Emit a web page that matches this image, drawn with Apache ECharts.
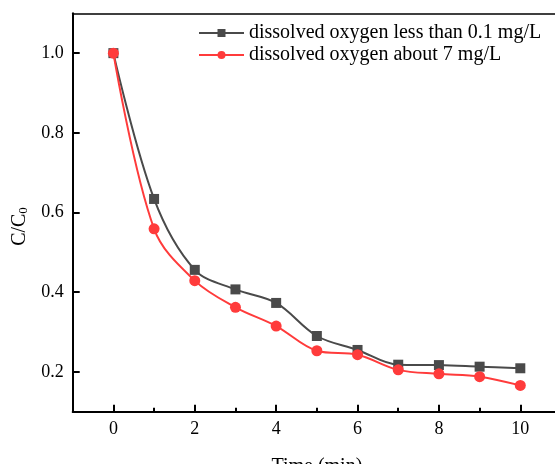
<!DOCTYPE html>
<html><head><meta charset="utf-8">
<script src="https://cdn.jsdelivr.net/npm/echarts@6/dist/echarts.min.js"></script>
<style>html,body{margin:0;padding:0;background:#fff}#c{width:555px;height:464px}</style>
</head><body><div id="c"></div>
<script>
const times = [0,1,2,3,4,5,6,7,8,9,10];
const lowDO = [1.0,0.634,0.456,0.407,0.373,0.290,0.255,0.218,0.217,0.213,0.209];
const highDO = [1.0,0.559,0.429,0.362,0.315,0.253,0.243,0.205,0.195,0.188,0.166];
const seriesNames = ['dissolved oxygen less than 0.1 mg/L','dissolved oxygen about 7 mg/L'];
const xTickLabels = [0,2,4,6,8,10];
const yTickLabels = [0.2,0.4,0.6,0.8,1.0];
const xRange = [-1,11];
const yRange = [0.1,1.1];

const font = 'Liberation Serif';
const chart = echarts.init(document.getElementById('c'));
const pairs = ys => times.map((t,i)=>[t,ys[i]]);
const near = (v,arr) => arr.some(a=>Math.abs(a-v)<1e-6);
const xCats = []; for(let v=xRange[0]; v<=xRange[1]; v++) xCats.push(String(v));
const yCats = []; for(let k=0; k<=10; k++) yCats.push((yRange[0]+k*0.1).toFixed(1));
const tickLine = {color:'#000',width:2};
const hidden = (gi)=>({type:'value',gridIndex:gi,show:false});
const G = {left:72.7,width:488.3,containLabel:false,outerBoundsMode:'none',show:false};

chart.setOption({
  animation:false,
  grid:[
    Object.assign({},G,{top:13.3,bottom:52.3}),
    Object.assign({},G,{bottom:52.3,height:7}),
    Object.assign({},G,{bottom:52.3,height:4}),
    Object.assign({},G,{width:7,top:13.3,bottom:52.3})
  ],
  legend:{
    orient:'vertical',left:198,top:23,padding:0,itemWidth:45,itemHeight:10,itemGap:2,
    textStyle:{fontFamily:font,fontSize:20,color:'#000'},
    data:seriesNames
  },
  xAxis:[{
    type:'value',gridIndex:0,min:xRange[0],max:xRange[1],interval:1,position:'bottom',
    name:'Time (min)',nameLocation:'middle',nameGap:45,
    nameTextStyle:{fontFamily:font,fontSize:20,color:'#000'},
    axisLine:{show:true,onZero:false,lineStyle:{color:'#000',width:2}},
    axisTick:{show:false},
    axisLabel:{fontFamily:font,fontSize:18,color:'#000',margin:9,showMinLabel:true,showMaxLabel:true,
      formatter:v=>near(v,xTickLabels)?String(Math.round(v)):''},
    splitLine:{show:false}
  },{
    type:'value',gridIndex:0,min:xRange[0],max:xRange[1],position:'top',
    axisLine:{show:true,onZero:false,lineStyle:{color:'#000',width:1.5}},
    axisTick:{show:false},axisLabel:{show:false},splitLine:{show:false}
  },{
    type:'category',gridIndex:1,data:xCats,boundaryGap:false,
    axisLine:{show:false},axisTick:{show:false},axisLabel:{show:false},
    splitLine:{show:true,lineStyle:tickLine,interval:(i,val)=>near(Number(val),xTickLabels)}
  },{
    type:'value',gridIndex:2,min:xRange[0],max:xRange[1],interval:1,
    axisLine:{show:false},axisTick:{show:false},axisLabel:{show:false},
    splitLine:{show:true,lineStyle:tickLine}
  },hidden(3)],
  yAxis:[{
    type:'value',gridIndex:0,min:yRange[0],max:yRange[1],interval:0.1,position:'left',
    name:'{a|C/C}{b|0}{s|}',nameLocation:'middle',nameGap:38,nameRotate:90,
    nameTextStyle:{rich:{a:{fontFamily:font,fontSize:20,color:'#000'},b:{fontFamily:font,fontSize:13,color:'#000',padding:[9,0,0,0]},s:{width:28}}},
    axisLine:{show:true,onZero:false,lineStyle:{color:'#000',width:2}},
    axisTick:{show:false},
    axisLabel:{fontFamily:font,fontSize:18,color:'#000',margin:9,
      formatter:v=>near(v,yTickLabels)?v.toFixed(1):''},
    splitLine:{show:false}
  },hidden(1),hidden(2),{
    type:'category',gridIndex:3,data:yCats,boundaryGap:false,
    axisLine:{show:false},axisTick:{show:false},axisLabel:{show:false},
    splitLine:{show:true,lineStyle:tickLine,interval:(i,val)=>near(Number(val),yTickLabels)}
  }],
  series:[{
    name:seriesNames[0],type:'line',xAxisIndex:0,yAxisIndex:0,data:pairs(lowDO),smooth:0.35,
    symbol:'rect',symbolSize:10,
    itemStyle:{color:'#4a4a4a'},lineStyle:{color:'#4a4a4a',width:2},z:3
  },{
    name:seriesNames[1],type:'line',xAxisIndex:0,yAxisIndex:0,data:pairs(highDO),smooth:0.35,
    symbol:'circle',symbolSize:11,
    itemStyle:{color:'#ff3b3b'},lineStyle:{color:'#ff3b3b',width:2},z:4
  }]
});
</script></body></html>
